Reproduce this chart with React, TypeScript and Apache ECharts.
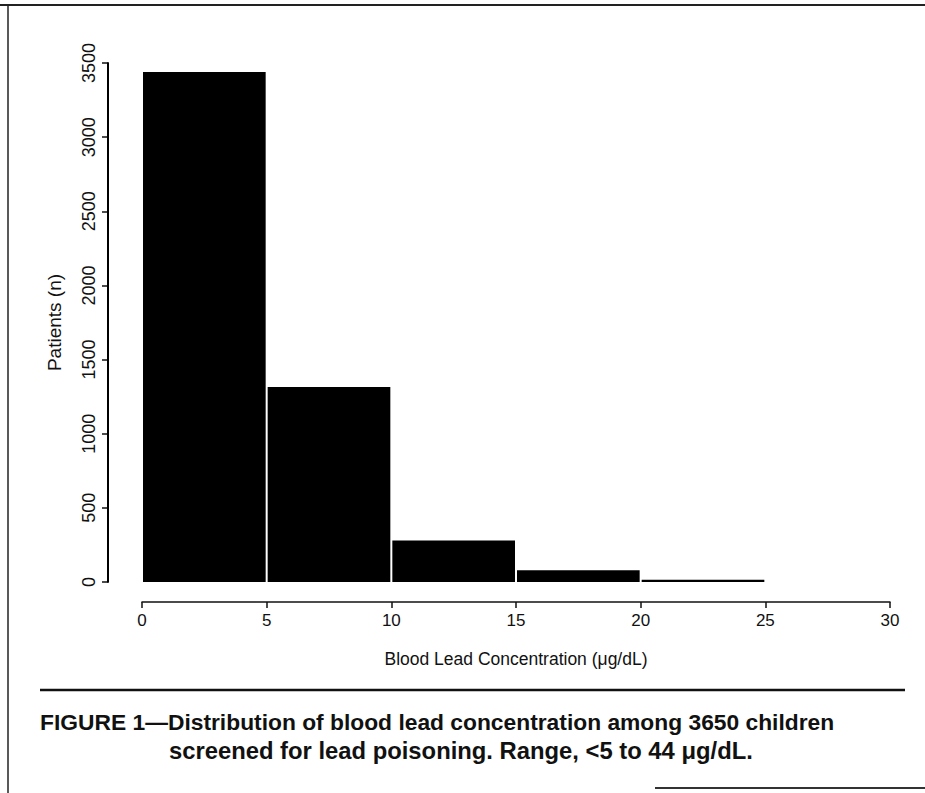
import React, { useEffect, useRef } from "react";
import * as echarts from "echarts";

// Histogram bins (µg/dL) and counts
const binStarts = [0, 5, 10, 15, 20];
const binEnds = [5, 10, 15, 20, 25];
const patients = [3440, 1315, 280, 80, 15];

const xMin = 0;
const xMax = 30;
const xStep = 5;
const yMin = 0;
const yMax = 3500;
const yStep = 500;

const xAxisTitle = "Blood Lead Concentration (μg/dL)";
const yAxisTitle = "Patients (n)";
const captionLine1 = "FIGURE 1—Distribution of blood lead concentration among 3650 children";
const captionLine2 = "screened for lead poisoning. Range, <5 to 44 μg/dL.";

const FONT = "'Liberation Sans', Arial, Helvetica, sans-serif";
const INK = "#111";

// layout
const W = 925;
const H = 793;
const PLOT_LEFT = 142;
const PLOT_RIGHT = 35;
const PLOT_TOP = 63;
const PLOT_BOTTOM = 211;
const YAXIS_X = 108;

export default function App() {
  const ref = useRef<HTMLDivElement>(null);

  useEffect(() => {
    if (!ref.current) return;
    const chart = echarts.init(ref.current, null, { renderer: "svg" });
    const data = binStarts.map((s, i) => [s, binEnds[i], patients[i]]);

    chart.setOption({
      animation: false,
      backgroundColor: "#ffffff",
      grid: [
        { left: PLOT_LEFT, right: PLOT_RIGHT, top: PLOT_TOP, bottom: PLOT_BOTTOM },
        { left: YAXIS_X, width: 20, top: PLOT_TOP, bottom: PLOT_BOTTOM },
      ],
      xAxis: [
        {
          type: "value",
          gridIndex: 0,
          min: xMin,
          max: xMax,
          interval: xStep,
          offset: 20,
          splitLine: { show: false },
          axisLine: { show: true, onZero: false, lineStyle: { color: INK, width: 1.5 } },
          axisTick: { show: true, length: 6, lineStyle: { color: INK, width: 1.5 } },
          axisLabel: { color: INK, fontSize: 17, fontFamily: FONT, margin: 10 },
          name: xAxisTitle,
          nameLocation: "middle",
          nameGap: 48,
          nameTextStyle: { color: INK, fontSize: 17.5, fontFamily: FONT },
        },
        {
          type: "value",
          gridIndex: 1,
          min: 0,
          max: 1,
          show: false,
        },
      ],
      yAxis: [
        {
          type: "value",
          gridIndex: 0,
          min: yMin,
          max: yMax,
          interval: yStep,
          show: false,
        },
        {
          type: "value",
          gridIndex: 1,
          min: yMin,
          max: yMax,
          interval: yStep,
          position: "left",
          z: 10,
          splitLine: { show: false },
          axisLine: { show: true, lineStyle: { color: INK, width: 2 } },
          axisTick: { show: true, length: 6, lineStyle: { color: INK, width: 1.5 } },
          axisLabel: {
            color: INK,
            fontSize: 18,
            fontFamily: FONT,
            rotate: 90,
            margin: 10,
            formatter: (v: number) => String(v),
          },
          name: yAxisTitle,
          nameLocation: "middle",
          nameRotate: 90,
          nameGap: 44,
          nameTextStyle: { color: INK, fontSize: 19, fontFamily: FONT },
        },
      ],
      series: [
        {
          type: "custom",
          xAxisIndex: 0,
          yAxisIndex: 0,
          data,
          encode: { x: [0, 1], y: 2 },
          renderItem: (params: any, api: any) => {
            const x0 = api.value(0);
            const x1 = api.value(1);
            const v = api.value(2);
            const p0 = api.coord([x0, v]);
            const p1 = api.coord([x1, 0]);
            return {
              type: "rect",
              shape: { x: p0[0] + 1, y: p0[1], width: p1[0] - p0[0] - 2, height: p1[1] - p0[1] },
              style: { fill: "#000" },
            };
          },
        },
      ],
      graphic: [
        { type: "line", shape: { x1: 0, y1: 5, x2: W, y2: 5 }, style: { stroke: "#222", lineWidth: 2 } },
        { type: "line", shape: { x1: 8, y1: 5, x2: 8, y2: H }, style: { stroke: "#222", lineWidth: 1.5 } },
        { type: "line", shape: { x1: 655, y1: 788, x2: W, y2: 788 }, style: { stroke: "#333", lineWidth: 2 } },
        { type: "line", shape: { x1: 40, y1: 690, x2: 905, y2: 690 }, style: { stroke: INK, lineWidth: 2.5 } },
        // y-axis spine (the grid's own axis line is also enabled)
        {
          type: "rect",
          z: 100,
          shape: { x: YAXIS_X - 1, y: PLOT_TOP, width: 2, height: H - PLOT_BOTTOM - PLOT_TOP },
          style: { fill: "#000" },
        },
        {
          type: "text",
          x: 40,
          y: 722,
          style: {
            text: captionLine1,
            fill: INK,
            font: `bold 22.8px ${FONT}`,
            textVerticalAlign: "middle",
          },
        },
        {
          type: "text",
          x: 169,
          y: 750,
          style: {
            text: captionLine2,
            fill: INK,
            font: `bold 23.8px ${FONT}`,
            textVerticalAlign: "middle",
          },
        },
      ],
    });

    return () => chart.dispose();
  }, []);

  return (
    <div
      ref={ref}
      style={{ position: "fixed", left: 0, top: 0, width: W, height: H, background: "#fff" }}
    />
  );
}
